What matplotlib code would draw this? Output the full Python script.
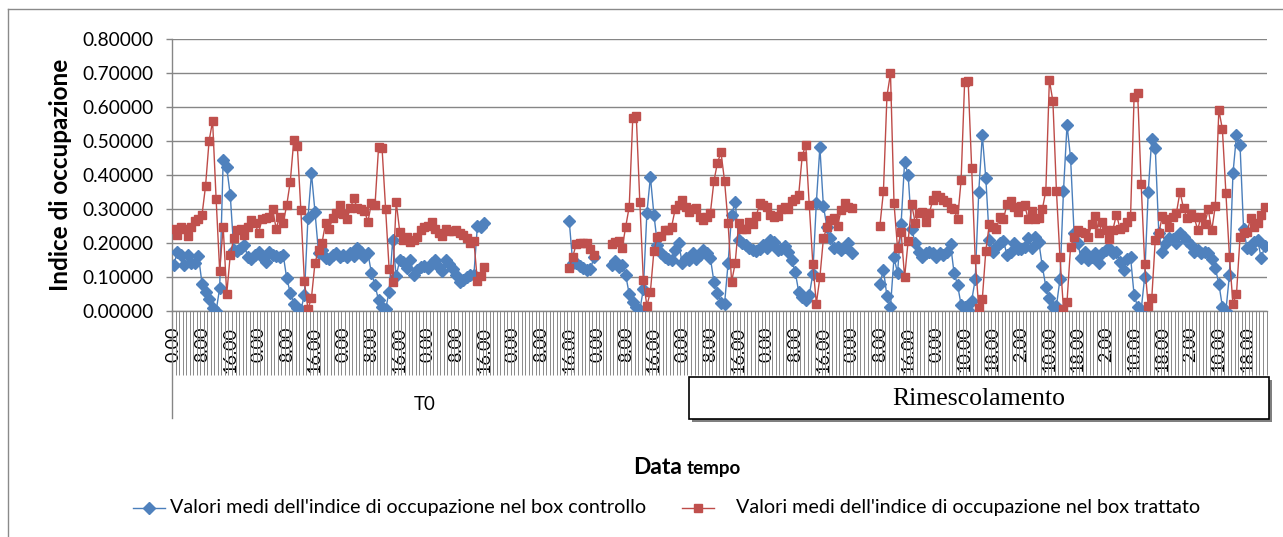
import numpy as np
import matplotlib
matplotlib.use("Agg")
import matplotlib.pyplot as plt
from matplotlib.lines import Line2D
from matplotlib.patches import Rectangle

plt.rcParams['font.family'] = ['Lato', 'DejaVu Sans']

# ---------------- data ----------------
n_categories = 310
segment_starts = [0, 112, 124, 200]

control_seg1 = [0.134, 0.174, 0.164, 0.134, 0.164, 0.141, 0.139, 0.161, 0.080, 0.056,
                0.033, 0.007, 0.000, 0.066, 0.444, 0.422, 0.340, 0.179, 0.177, 0.186,
                0.193, 0.157, 0.151, 0.164, 0.174, 0.157, 0.144, 0.174, 0.164, 0.161,
                0.157, 0.164, 0.095, 0.053, 0.021, 0.007, 0.002, 0.046, 0.272, 0.404,
                0.291, 0.171, 0.179, 0.154, 0.151, 0.164, 0.169, 0.159, 0.164, 0.157,
                0.169, 0.161, 0.186, 0.174, 0.159, 0.169, 0.110, 0.075, 0.031, 0.012,
                0.004, 0.056, 0.208, 0.102, 0.149, 0.144, 0.125, 0.149, 0.105, 0.120,
                0.129, 0.131, 0.125, 0.140, 0.149, 0.128, 0.118, 0.149, 0.137, 0.122,
                0.105, 0.085, 0.090, 0.100, 0.105, 0.105, 0.250, 0.245, 0.257]
control_seg2 = [0.265, 0.141, 0.141, 0.131, 0.125, 0.120, 0.122, 0.157]
control_seg3 = [0.134, 0.147, 0.130, 0.134, 0.105, 0.049, 0.026, 0.010, 0.002, 0.063,
                0.287, 0.394, 0.282, 0.194, 0.169, 0.157, 0.151, 0.149, 0.179, 0.200,
                0.140, 0.155, 0.149, 0.171, 0.152, 0.164, 0.179, 0.169, 0.154, 0.085,
                0.053, 0.022, 0.020, 0.139, 0.282, 0.321, 0.208, 0.200, 0.193, 0.184,
                0.179, 0.177, 0.181, 0.193, 0.184, 0.208, 0.203, 0.179, 0.181, 0.190,
                0.174, 0.149, 0.115, 0.056, 0.041, 0.031, 0.046, 0.108, 0.318, 0.481,
                0.308, 0.247, 0.213, 0.184, 0.188, 0.179, 0.188, 0.200, 0.171]
control_seg4 = [0.079, 0.120, 0.043, 0.012, 0.157, 0.110, 0.255, 0.439, 0.400, 0.240,
                0.200, 0.174, 0.157, 0.169, 0.174, 0.169, 0.159, 0.171, 0.164, 0.174,
                0.196, 0.112, 0.076, 0.017, 0.010, 0.002, 0.030, 0.092, 0.350, 0.517,
                0.390, 0.208, 0.174, 0.188, 0.198, 0.206, 0.164, 0.174, 0.200, 0.181,
                0.181, 0.188, 0.213, 0.186, 0.218, 0.203, 0.131, 0.071, 0.036, 0.010,
                0.014, 0.092, 0.353, 0.547, 0.451, 0.228, 0.200, 0.154, 0.174, 0.149,
                0.159, 0.169, 0.141, 0.169, 0.179, 0.184, 0.171, 0.174, 0.144, 0.120,
                0.151, 0.157, 0.046, 0.012, 0.002, 0.100, 0.350, 0.507, 0.478, 0.228,
                0.174, 0.198, 0.213, 0.210, 0.200, 0.228, 0.218, 0.206, 0.193, 0.174,
                0.179, 0.169, 0.174, 0.171, 0.151, 0.125, 0.080, 0.012, 0.000, 0.105,
                0.404, 0.517, 0.488, 0.242, 0.184, 0.181, 0.203, 0.208, 0.154, 0.190]

treated_seg1 = [0.240, 0.223, 0.245, 0.242, 0.220, 0.247, 0.264, 0.269, 0.282, 0.367,
                0.500, 0.558, 0.328, 0.118, 0.247, 0.049, 0.164, 0.213, 0.237, 0.240,
                0.223, 0.247, 0.267, 0.257, 0.228, 0.269, 0.272, 0.277, 0.298, 0.242,
                0.277, 0.259, 0.311, 0.380, 0.502, 0.485, 0.296, 0.087, 0.004, 0.038,
                0.141, 0.179, 0.200, 0.259, 0.242, 0.272, 0.289, 0.311, 0.285, 0.269,
                0.301, 0.331, 0.301, 0.298, 0.294, 0.262, 0.318, 0.311, 0.481, 0.478,
                0.298, 0.122, 0.085, 0.321, 0.233, 0.208, 0.218, 0.203, 0.208, 0.216,
                0.237, 0.245, 0.249, 0.262, 0.242, 0.228, 0.220, 0.242, 0.235, 0.235,
                0.237, 0.230, 0.222, 0.213, 0.200, 0.206, 0.087, 0.102, 0.128]
treated_seg2 = [0.125, 0.159, 0.196, 0.198, 0.200, 0.200, 0.183, 0.164]
treated_seg3 = [0.196, 0.203, 0.206, 0.184, 0.247, 0.306, 0.566, 0.573, 0.321, 0.090,
                0.014, 0.056, 0.177, 0.218, 0.220, 0.237, 0.239, 0.247, 0.298, 0.311,
                0.326, 0.306, 0.291, 0.298, 0.301, 0.275, 0.267, 0.277, 0.289, 0.382,
                0.436, 0.466, 0.382, 0.259, 0.085, 0.139, 0.257, 0.242, 0.242, 0.262,
                0.255, 0.279, 0.318, 0.311, 0.306, 0.282, 0.277, 0.279, 0.298, 0.306,
                0.298, 0.324, 0.328, 0.341, 0.456, 0.488, 0.310, 0.138, 0.021, 0.098,
                0.213, 0.247, 0.267, 0.272, 0.249, 0.296, 0.316, 0.306, 0.301]
treated_seg4 = [0.250, 0.351, 0.632, 0.699, 0.316, 0.184, 0.233, 0.098, 0.206, 0.313,
                0.259, 0.288, 0.291, 0.262, 0.288, 0.326, 0.340, 0.336, 0.326, 0.321,
                0.301, 0.298, 0.269, 0.384, 0.674, 0.676, 0.419, 0.151, 0.007, 0.033,
                0.177, 0.255, 0.245, 0.242, 0.277, 0.269, 0.314, 0.324, 0.306, 0.291,
                0.308, 0.311, 0.269, 0.294, 0.269, 0.272, 0.298, 0.353, 0.679, 0.617,
                0.353, 0.157, 0.006, 0.026, 0.188, 0.218, 0.239, 0.233, 0.228, 0.216,
                0.255, 0.280, 0.229, 0.260, 0.239, 0.210, 0.239, 0.283, 0.242, 0.247,
                0.262, 0.279, 0.630, 0.642, 0.373, 0.137, 0.014, 0.036, 0.209, 0.228,
                0.279, 0.269, 0.246, 0.277, 0.289, 0.350, 0.301, 0.272, 0.285, 0.275,
                0.239, 0.277, 0.255, 0.298, 0.237, 0.308, 0.591, 0.535, 0.346, 0.159,
                0.020, 0.049, 0.216, 0.228, 0.233, 0.272, 0.246, 0.257, 0.282, 0.304]

tick_labels = ["0.00", "8.00", "16.00"] * 9 + ["0.00"] + \
              ["10.00", "18.00", "2.00"] * 3 + ["10.00", "18.00"]
tick_step = 8

group_labels = ["T0", "Rimescolamento"]
series_names = ["Valori medi dell'indice di occupazione nel box controllo",
                "Valori medi dell'indice di occupazione nel box trattato"]
y_title = "Indice di occupazione"


def assemble(segments):
    arr = np.full(n_categories, np.nan)
    for start, seg in zip(segment_starts, segments):
        arr[start:start + len(seg)] = seg
    return arr


control = assemble([control_seg1, control_seg2, control_seg3, control_seg4])
treated = assemble([treated_seg1, treated_seg2, treated_seg3, treated_seg4])
x = np.arange(n_categories)

# ---------------- figure ----------------
W, H = 1283, 537
fig = plt.figure(figsize=(W / 100, H / 100), dpi=100)
fig.patch.set_facecolor('white')


def fx(px):
    return px / W


def fy(py):
    return 1 - py / H


ax_l, ax_r, ax_t, ax_b = 172, 1266.5, 39, 310.7
ax = fig.add_axes([fx(ax_l), fy(ax_b), fx(ax_r - ax_l), (ax_b - ax_t) / H])

blue_line, blue_fill = '#4A7EBB', '#4F81BD'
red_line, red_fill = '#BE4B48', '#C0504D'
grey = '#868686'

ax.plot(x, control, color=blue_line, lw=1.0, marker='D', ms=6,
        mfc=blue_fill, mec=blue_fill, zorder=3)
ax.plot(x, treated, color=red_line, lw=1.0, marker='s', ms=5.6,
        mfc=red_fill, mec=red_fill, zorder=4)

ax.set_xlim(-0.5, n_categories - 0.5)
ax.set_ylim(0, 0.8)

yt = np.arange(0, 0.81, 0.1)
ax.set_yticks(yt)
ax.set_yticklabels([f"{v:.5f}" for v in yt], fontsize=13.8)
ax.tick_params(axis='y', length=4.3, width=1, color=grey, pad=9)
ax.yaxis.grid(True, color=grey, lw=1.0)
ax.set_axisbelow(True)

major = np.arange(0, n_categories, tick_step)[:len(tick_labels)]
ax.set_xticks(major)
ax.set_xticklabels(tick_labels, rotation=90, fontsize=13)
ax.tick_params(axis='x', which='major', length=0, pad=11.5)
ax.set_xticks(np.arange(-0.5, n_categories, 1), minor=True)
ax.tick_params(axis='x', which='minor', length=46, width=0.7, color='#8a8a8a')

for s in ['top', 'right']:
    ax.spines[s].set_visible(False)
for s in ['left', 'bottom']:
    ax.spines[s].set_color(grey)
    ax.spines[s].set_linewidth(1.0)

# outer chart border
fig.add_artist(Line2D([fx(8), fx(W + 5)], [fy(9), fy(9)], color='#8a8a8a', lw=1.0))
fig.add_artist(Line2D([fx(8), fx(8)], [fy(9), fy(H + 5)], color='#8a8a8a', lw=1.0))

# group separator of category axis
fig.add_artist(Line2D([fx(172), fx(172)], [fy(311), fy(418)], color=grey, lw=1.0))

# group label T0
fig.text(fx(425), fy(405), group_labels[0], fontsize=13.5, ha='center', va='center')

# Rimescolamento text box with shadow
bx0, bx1, by0, by1 = 689, 1269, 377, 419
fig.add_artist(Rectangle((fx(bx0 + 3), fy(by1 + 3)), fx(bx1 - bx0), (by1 - by0) / H,
                         facecolor='#7f7f7f', edgecolor='none', zorder=5))
fig.add_artist(Rectangle((fx(bx0), fy(by1)), fx(bx1 - bx0), (by1 - by0) / H,
                         facecolor='white', edgecolor='black', lw=1.2, zorder=6))
fig.text(fx((bx0 + bx1) / 2), fy(399), group_labels[1], fontsize=18.5,
         family=['Liberation Serif', 'DejaVu Serif'], ha='center', va='center', zorder=7)

# axis titles
fig.text(fx(60), fy(175), y_title, rotation=90, fontsize=17.5, fontweight='bold',
         ha='center', va='center')
fig.text(fx(682), fy(467), "Data", fontsize=16.5, fontweight='bold', ha='right', va='center')
fig.text(fx(687), fy(468.5), "tempo", fontsize=13.5, fontweight='bold', ha='left', va='center')

# legend
ly = 508
fig.add_artist(Line2D([fx(133), fx(165)], [fy(ly), fy(ly)], color=blue_line, lw=1.0))
fig.add_artist(Line2D([fx(149)], [fy(ly)], color=blue_line, marker='D', ms=6,
                      mfc=blue_fill, mec=blue_fill))
fig.text(fx(170), fy(ly), series_names[0], fontsize=14.2, ha='left', va='center')
fig.add_artist(Line2D([fx(682), fx(714)], [fy(ly), fy(ly)], color=red_line, lw=1.0))
fig.add_artist(Line2D([fx(698)], [fy(ly)], color=red_line, marker='s', ms=5.6,
                      mfc=red_fill, mec=red_fill))
fig.text(fx(736), fy(ly), series_names[1], fontsize=14.2, ha='left', va='center')

fig.savefig("out.png", dpi=100)
